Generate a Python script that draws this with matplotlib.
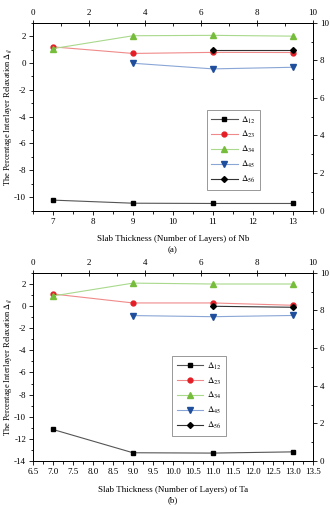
import matplotlib
matplotlib.use('Agg')
from matplotlib import pyplot as plt
from matplotlib.ticker import MultipleLocator, FormatStrFormatter

plt.rcParams['font.family'] = ['Liberation Serif', 'DejaVu Serif']
plt.rcParams['mathtext.fontset'] = 'stix'
plt.rcParams['font.size'] = 6.5

# layers for each series
layers_all = [7, 9, 11, 13]
layers_45 = [9, 11, 13]
layers_56 = [11, 13]

# panel (a): Nb
nb_d12 = [-10.22, -10.45, -10.47, -10.47]
nb_d23 = [1.2, 0.71, 0.79, 0.78]
nb_d34 = [1.07, 2.03, 2.06, 2.0]
nb_d45 = [-0.02, -0.44, -0.32]
nb_d56 = [1.0, 1.0]

# panel (b): Ta
ta_d12 = [-11.15, -13.25, -13.28, -13.17]
ta_d23 = [1.08, 0.27, 0.27, 0.06]
ta_d34 = [0.9, 2.06, 1.98, 1.98]
ta_d45 = [-0.87, -0.97, -0.86]
ta_d56 = [-0.03, -0.12]

labels = [r'$\Delta_{12}$', r'$\Delta_{23}$', r'$\Delta_{34}$',
          r'$\Delta_{45}$', r'$\Delta_{56}$']

styles = [
    dict(marker='s', color='#555555', mfc='black', mec='black', ms=3.5),
    dict(marker='o', color='#f08a8a', mfc='#e41e26', mec='#e41e26', ms=3.5),
    dict(marker='^', color='#a9d98c', mfc='#76bd3c', mec='#76bd3c', ms=3.8),
    dict(marker='v', color='#8aa6d6', mfc='#1f4e9c', mec='#1f4e9c', ms=3.8),
    dict(marker='D', color='#333333', mfc='black', mec='black', ms=3.0),
]

fig = plt.figure(figsize=(3.3, 5.05), dpi=100)


def draw_panel(rect, series, ylim, xlabel, caption, cap_y, legend_anchor,
               bottom_major, bottom_minor, bottom_fmt):
    ax = fig.add_axes(rect)
    xs = [layers_all, layers_all, layers_all, layers_45, layers_56]
    for x, y, lab, st in zip(xs, series, labels, styles):
        ax.plot(x, y, lw=0.8, label=lab, **st)

    ax.set_xlim(6.5, 13.5)
    ax.set_ylim(*ylim)
    ax.xaxis.set_major_locator(MultipleLocator(bottom_major))
    ax.xaxis.set_minor_locator(MultipleLocator(bottom_minor))
    ax.xaxis.set_major_formatter(FormatStrFormatter(bottom_fmt))
    ax.yaxis.set_major_locator(MultipleLocator(2))
    ax.yaxis.set_minor_locator(MultipleLocator(1))
    ax.yaxis.set_major_formatter(FormatStrFormatter('%.0f'))
    ax.tick_params(which='major', direction='out', length=3, width=0.6,
                   labelsize=6.5, pad=2)
    ax.tick_params(which='minor', direction='out', length=1.8, width=0.6)
    ax.set_xlabel(xlabel, fontsize=6.5, labelpad=7)
    ax.set_ylabel(r'The Percentage Interlayer Relaxation $\Delta_{ij}$',
                  fontsize=6.0)
    ax.yaxis.set_label_coords(-0.068, 0.5)

    top = ax.twiny()
    top.set_xlim(0, 10)
    top.xaxis.set_major_locator(MultipleLocator(2))
    top.xaxis.set_minor_locator(MultipleLocator(1))
    top.tick_params(which='major', direction='inout', length=4, width=0.6,
                    labelsize=6.5, pad=2)
    top.tick_params(which='minor', direction='in', length=1.8, width=0.6)

    right = ax.twinx()
    right.set_ylim(0, 10)
    right.yaxis.set_major_locator(MultipleLocator(2))
    right.yaxis.set_minor_locator(MultipleLocator(1))
    right.tick_params(which='major', direction='out', length=3, width=0.6,
                      labelsize=6.5, pad=2)
    right.tick_params(which='minor', direction='in', length=1.8, width=0.6)

    for a in (ax, top, right):
        for spine in ['top', 'bottom', 'left', 'right']:
            a.spines[spine].set_linewidth(0.7)

    leg = ax.legend(loc='lower left', bbox_to_anchor=legend_anchor,
                    fontsize=6.3, handlelength=3.0, labelspacing=0.42,
                    borderpad=0.55, handletextpad=0.4, borderaxespad=0,
                    fancybox=False, edgecolor='#888888', framealpha=1)
    leg.get_frame().set_linewidth(0.6)
    leg.set_zorder(10)
    ax.set_zorder(top.get_zorder() + 1)
    ax.patch.set_visible(False)

    fig.text(rect[0] + rect[2] / 2, cap_y, caption, ha='center', va='center',
             fontsize=6.5)
    return ax


draw_panel([0.1, 0.583, 0.848, 0.372],
           [nb_d12, nb_d23, nb_d34, nb_d45, nb_d56], (-11, 3),
           'Slab Thickness (Number of Layers) of Nb', '(a)', 1 - 250 / 505,
           (0.62, 0.11), 1, 0.5, '%.0f')

draw_panel([0.1, 0.087, 0.848, 0.373],
           [ta_d12, ta_d23, ta_d34, ta_d45, ta_d56], (-14, 3),
           'Slab Thickness (Number of Layers) of Ta', '(b)', 1 - 500 / 505,
           (0.497, 0.133), 0.5, 0.25, '%.1f')

fig.savefig('out.png', dpi=100)
